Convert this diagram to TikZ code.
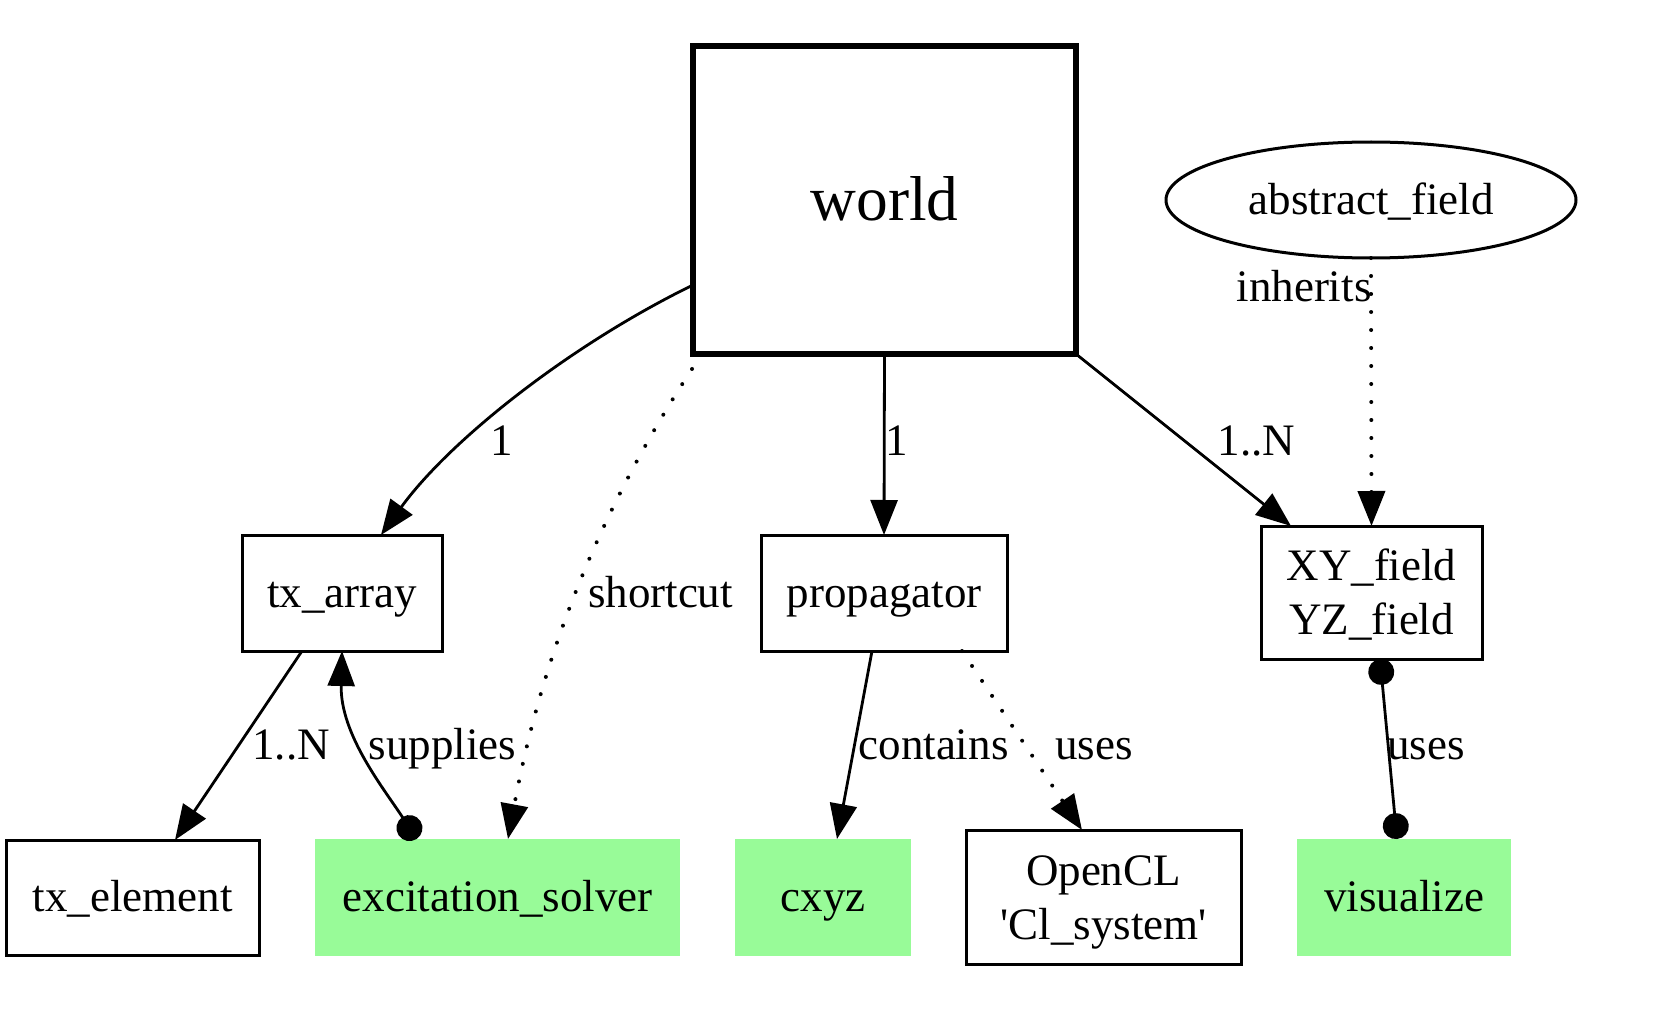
\documentclass[tikz,border=0pt]{standalone}
\usepackage{fontspec}
\setmainfont{Liberation Serif}
\usetikzlibrary{arrows.meta,shapes.geometric}
\definecolor{palegreen}{HTML}{98FB98}
\newcommand{\twolines}[2]{\raisebox{0pt}[\dimexpr\height+4.5pt\relax][\depth]{\begin{tabular}{@{}c@{}}#1\\#2\end{tabular}}}
\begin{document}
\begin{tikzpicture}[x=0.5pt,y=-0.5pt,
  every node/.style={font=\fontsize{22.5pt}{27pt}\selectfont, inner sep=0pt, outer sep=0pt},
  box/.style={draw, line width=1.5pt, text height=19.4pt, text depth=5pt},
  box2/.style={draw, line width=1.5pt},
  gbox/.style={fill=palegreen, text height=19.4pt, text depth=5pt},
  lbl/.style={anchor=base},
  tri/.style={-{Triangle[length=17.5pt,width=13.5pt]}},
  edgeline/.style={line width=1.4pt, tri},
  dotedge/.style={line width=2pt, line cap=round, dash pattern=on 0pt off 9pt, tri},
  dottip/.style={{Circle[length=13pt]}-{Circle[length=13pt]}}
]
\path[use as bounding box, fill=white] (0,0) rectangle (1667,1022);

% nodes
\node[box, line width=2.8pt, minimum width=191.5pt, minimum height=154pt,
      font=\fontsize{31.7pt}{38pt}\selectfont, text height=27.3pt, text depth=7pt] (world) at (884.5,200) {world};
\node[ellipse, draw, line width=1.5pt, minimum width=205pt, minimum height=58pt, text height=19.4pt, text depth=5pt] (abs) at (1371,200) {abstract\_field};
\node[box, minimum width=100pt, minimum height=58pt] (txa) at (342,593) {tx\_array};
\node[box, minimum width=123pt, minimum height=58pt] (prop) at (884,593) {propagator};
\node[box2, minimum width=110.5pt, minimum height=66.5pt] (xy) at (1371.5,592.5) {\twolines{XY\_field}{YZ\_field}};
\node[box, minimum width=126.5pt, minimum height=57.5pt] (txe) at (132.5,897.5) {tx\_element};
\node[gbox, minimum width=182.5pt, minimum height=58.5pt] (exc) at (497.5,897.5) {excitation\_solver};
\node[gbox, minimum width=88pt, minimum height=58.5pt] (cxyz) at (823,897.5) {cxyz};
\node[box2, minimum width=137.5pt, minimum height=67pt] (ocl) at (1103.5,897) {\twolines{OpenCL}{\textquotesingle Cl\_system\textquotesingle}};
\node[gbox, minimum width=107pt, minimum height=58.5pt] (vis) at (1404,897.5) {visualize};

% connectors
\draw[edgeline] ([yshift=-42.5pt]world.west) .. controls (570,345) and (450,440) .. ([xshift=19.5pt]txa.north);
\draw[edgeline] (world.south) -- (prop.north);
\draw[edgeline] (world.south east) -- ([xshift=-40.25pt]xy.north);
\draw[dotedge] (abs.south) -- (xy.north);
\draw[dotedge] ([xshift=-91.25pt]world.south) .. controls (610,490) and (545,640) .. ([xshift=5.25pt]exc.north);
\draw[edgeline] ([xshift=-20pt]txa.south) -- ([xshift=21.25pt]txe.north);
\draw[line width=1.4pt, {Circle[length=13pt]}-{Triangle[length=17.5pt,width=13.5pt]}] ([xshift=-40.5pt]exc.north) .. controls (385,790) and (340,735) .. (txa.south);
\draw[edgeline] ([xshift=-6pt]prop.south) -- ([xshift=7pt]cxyz.north);
\draw[dotedge] ([xshift=39pt]prop.south) -- ([xshift=-10.75pt]ocl.north);
\draw[line width=1.4pt, dottip] ([xshift=4.25pt]xy.south) -- ([xshift=-3.5pt]vis.north);

% labels
\node[lbl] (l1) at (502,455) {1};
\node[lbl] (l2) at (896.5,455) {1};
\node[lbl] (l3) at (1256.5,455) {1..N};
\node[lbl] (l4) at (1304,301) {inherits};
\node[lbl] (l5) at (660.5,607) {shortcut};
\node[lbl] (l6) at (291,759) {1..N};
\node[lbl] (l7) at (442.5,759) {supplies};
\node[lbl] (l8) at (933.5,759) {contains};
\node[lbl] (l9) at (1094,759) {uses};
\node[lbl] (l10) at (1426,759) {uses};
\end{tikzpicture}
\end{document}
